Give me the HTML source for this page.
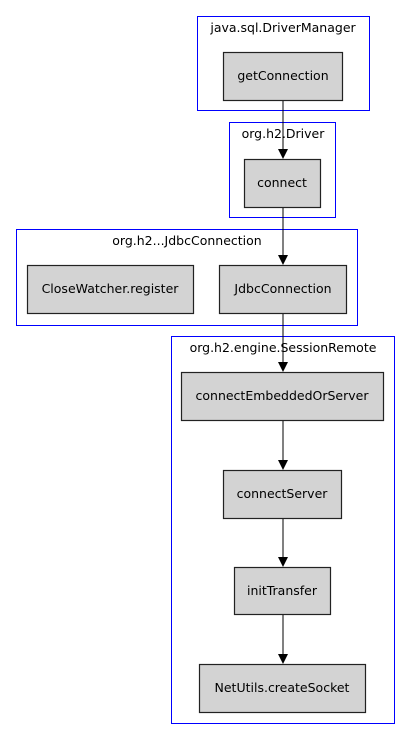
<!DOCTYPE html>
<html><head><meta charset="utf-8"><style>html,body{margin:0;padding:0;background:#fff}svg{display:block}</style></head>
<body>
<svg width="411" height="740" viewBox="0 0 411 740" xmlns="http://www.w3.org/2000/svg" font-family="DejaVu Sans, sans-serif" font-size="12.5">
<defs><marker id="a" markerWidth="10" markerHeight="12" refX="9" refY="5" orient="auto" markerUnits="userSpaceOnUse"><path d="M0,0 L10,5 L0,10 z" fill="#000"/></marker></defs>
<g fill="none" stroke="#0000ff" stroke-width="1">
<rect x="197.5" y="16.5" width="172" height="94"/>
<rect x="229.5" y="122.5" width="106" height="95"/>
<rect x="16.5" y="229.5" width="341" height="96"/>
<rect x="171.5" y="336.5" width="223" height="387"/>
</g>
<g fill="#000" text-anchor="middle">
<text x="283" y="32">java.sql.DriverManager</text>
<text x="283" y="138">org.h2.Driver</text>
<text x="187" y="245">org.h2...JdbcConnection</text>
<text x="283" y="352">org.h2.engine.SessionRemote</text>
</g>
<g fill="#d3d3d3" stroke="#222" stroke-width="1.2">
<rect x="223.5" y="52.5" width="119" height="48"/>
<rect x="244.5" y="159.5" width="76" height="48"/>
<rect x="27.5" y="265.5" width="166" height="48"/>
<rect x="219.5" y="265.5" width="127" height="48"/>
<rect x="181.5" y="372.5" width="202" height="48"/>
<rect x="223.5" y="470.5" width="118" height="48"/>
<rect x="234.5" y="567.5" width="96" height="47"/>
<rect x="199.5" y="664.5" width="166" height="48"/>
</g>
<g fill="#000" text-anchor="middle">
<text x="283" y="80">getConnection</text>
<text x="282" y="187">connect</text>
<text x="110" y="293">CloseWatcher.register</text>
<text x="283" y="293">JdbcConnection</text>
<text x="282" y="400">connectEmbeddedOrServer</text>
<text x="282" y="498">connectServer</text>
<text x="282" y="595">initTransfer</text>
<text x="282" y="692">NetUtils.createSocket</text>
</g>
<g stroke="#000" stroke-width="1" marker-end="url(#a)">
<line x1="283" y1="101" x2="283" y2="158"/>
<line x1="283" y1="208" x2="283" y2="264"/>
<line x1="283" y1="314" x2="283" y2="371"/>
<line x1="283" y1="421" x2="283" y2="469"/>
<line x1="283" y1="519" x2="283" y2="566"/>
<line x1="283" y1="615" x2="283" y2="663"/>
</g>
</svg>
</body></html>
